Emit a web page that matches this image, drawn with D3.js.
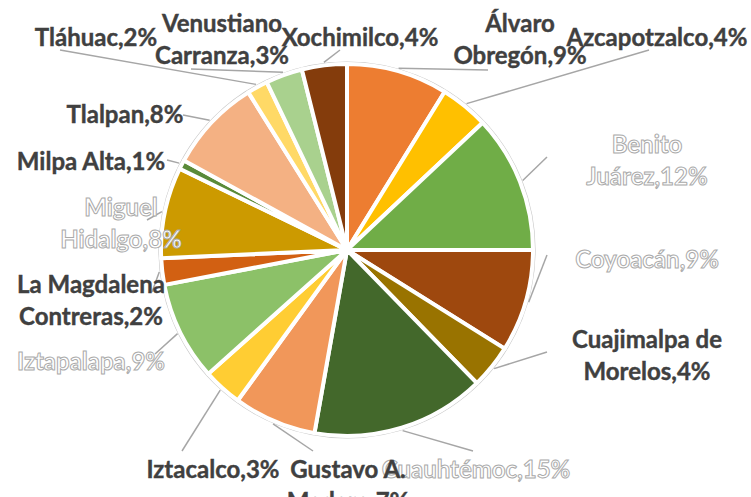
<!DOCTYPE html>
<html>
<head>
<meta charset="utf-8">
<script src="https://cdn.jsdelivr.net/npm/d3@7"></script>
<style>
  body { margin: 0; background: #fff; }
  svg text { font-family: Lato, "Open Sans", sans-serif; font-weight: 700; }
</style>
</head>
<body>
<svg id="chart" width="751" height="497"></svg>
<script>
// Data (percent share per alcaldía)
const categories = ['Álvaro Obregón', 'Azcapotzalco', 'Benito Juárez', 'Coyoacán',
  'Cuajimalpa de Morelos', 'Cuauhtémoc', 'Gustavo A. Madero', 'Iztacalco',
  'Iztapalapa', 'La Magdalena Contreras', 'Miguel Hidalgo', 'Milpa Alta',
  'Tlalpan', 'Tláhuac', 'Venustiano Carranza', 'Xochimilco'];
const values = [8.8, 4.2, 12.0, 8.9, 3.8, 15.1, 7.2, 3.4, 8.6, 2.3, 7.9, 0.8, 8.1, 1.8, 3.2, 3.9];
const colors = ['#ED7D31', '#FFC000', '#70AD47', '#9E480E', '#997300', '#43682B', '#F1975A', '#FFCD33',
  '#8CC168', '#D26012', '#CC9A00', '#5A8A39', '#F4B183', '#FFD966', '#A9D18E', '#843C0C'];

// Label layout: center x, first line y, words on first line (0 = single line),
// leader start point, and whether the label is drawn hollow
const labelLayout = [
  { x: 520, y: 22, br: 1, lx: 488, ly: 70 },
  { x: 657, y: 36, br: 0, lx: 649, ly: 50 },
  { x: 647, y: 143, br: 1, lx: 547, ly: 157, hollow: true },
  { x: 647, y: 258, br: 0, lx: 547, ly: 255, hollow: true },
  { x: 647, y: 338, br: 2, lx: 547, ly: 352 },
  { x: 476, y: 468, br: 0, lx: 473, ly: 451, hollow: true },
  { x: 348, y: 468, br: 2, lx: 313, ly: 451 },
  { x: 213, y: 468, br: 0, lx: 182, ly: 451 },
  { x: 91, y: 360, br: 0, lx: 155, ly: 354, hollow: true },
  { x: 91, y: 283, br: 2, lx: 152, ly: 292 },
  { x: 121, y: 206, br: 1, lx: 147, ly: 220, hollow: true },
  { x: 91, y: 160, br: 0, lx: 167, ly: 160 },
  { x: 125, y: 113, br: 0, lx: 183, ly: 115 },
  { x: 96, y: 36, br: 0, lx: 60, ly: 50 },
  { x: 222, y: 22, br: 1, lx: 191, ly: 69 },
  { x: 360, y: 36, br: 0, lx: 340, ly: 50 }
];

const width = 751;
const height = 497;
const cx = 347;
const cy = 250;
const radius = 186;
const lineHeight = 32;

const svg = d3.select('#chart');
const g = svg.append('g').attr('transform', `translate(${cx},${cy})`);

const data = categories.map((name, i) => ({ name, value: values[i], color: colors[i], layout: labelLayout[i] }));

const pie = d3.pie().sort(null).value(d => d.value);
const arcs = pie(data);
const arc = d3.arc().innerRadius(0).outerRadius(radius);

// thin outline around the whole pie
g.append('circle')
  .attr('r', radius + 2)
  .attr('fill', 'none')
  .attr('stroke', '#c9c9c9')
  .attr('stroke-width', 1.2);

g.selectAll('path.slice')
  .data(arcs)
  .enter()
  .append('path')
  .attr('class', 'slice')
  .attr('d', arc)
  .attr('fill', d => d.data.color)
  .attr('stroke', '#fff')
  .attr('stroke-width', 4)
  .attr('stroke-linejoin', 'round');

// Leader lines from label to pie edge at the slice's mid angle
const edge = d3.arc().innerRadius(radius + 3).outerRadius(radius + 3);
g.selectAll('line.leader')
  .data(arcs)
  .enter()
  .append('line')
  .attr('class', 'leader')
  .attr('x1', d => d.data.layout.lx - cx)
  .attr('y1', d => d.data.layout.ly - cy)
  .attr('x2', d => edge.centroid(d)[0])
  .attr('y2', d => edge.centroid(d)[1])
  .attr('stroke', '#a6a6a6')
  .attr('stroke-width', 1.5);

// Labels: "name,NN%" wrapped after a number of words
const labels = svg.selectAll('text.label')
  .data(data)
  .enter()
  .append('text')
  .attr('class', 'label')
  .attr('text-anchor', 'middle')
  .attr('dominant-baseline', 'central')
  .style('font-size', '24px')
  .attr('fill', d => (d.layout.hollow ? '#fff' : '#404040'))
  .attr('stroke', d => (d.layout.hollow ? '#aaaaaa' : '#404040'))
  .attr('stroke-width', d => (d.layout.hollow ? 1 : 0.4));

labels.each(function(d) {
  const full = `${d.name},${Math.round(d.value)}%`;
  const words = full.split(' ');
  const lines = d.layout.br ? [words.slice(0, d.layout.br).join(' '), words.slice(d.layout.br).join(' ')] : [full];
  d3.select(this)
    .selectAll('tspan')
    .data(lines)
    .enter()
    .append('tspan')
    .attr('x', d.layout.x)
    .attr('y', (t, i) => d.layout.y + i * lineHeight)
    .text(t => t);
});
</script>
</body>
</html>
